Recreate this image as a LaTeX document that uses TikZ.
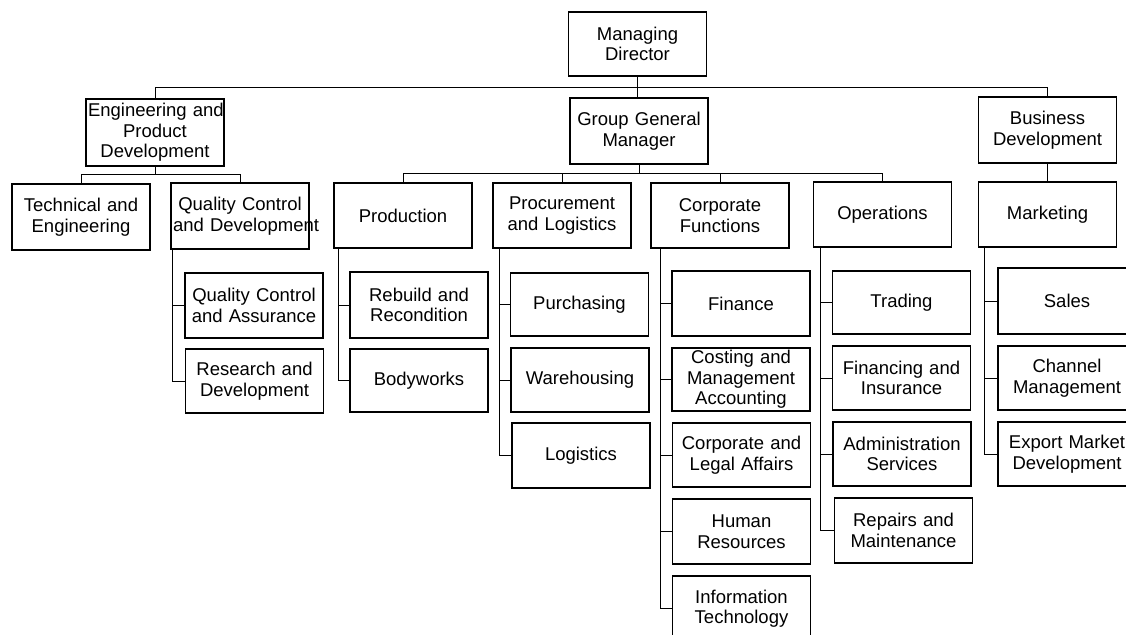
\documentclass[tikz,border=0pt]{standalone}
\usepackage{fontspec}
\setmainfont{Liberation Sans}
\begin{document}
\begin{tikzpicture}[x=1pt,y=-1pt,
  box/.style={draw, line width=1.1pt, rectangle, align=center, inner xsep=2pt, inner ysep=0pt,
    text width=134pt, minimum height=65pt, font=\fontsize{18.5}{20.5}\selectfont},
  link/.style={line width=1pt}]
\useasboundingbox (0,0) rectangle (1126,634);
\clip (0,0) rectangle (1126,634);

% level 0 and 1
\node[box] (md)  at (637.5,44)  [minimum height=64pt] {Managing\\Director};
\node[box] (epd) at (155,132.5) [minimum height=67pt] {\mbox{Engineering and}\\Product\\Development};
\node[box] (ggm) at (639,131)   [minimum height=66pt] {\mbox{Group General}\\Manager};
\node[box] (bd)  at (1047.5,130) [minimum height=66pt] {Business\\Development};

% level 2
\node[box] (te)   at (81,217)      [minimum height=66pt] {\mbox{Technical and}\\Engineering};
\node[box] (qcd)  at (240,216)     [minimum height=66pt] {\mbox{Quality Control}\\\mbox{and Development}};
\node[box] (prod) at (403,215.5)   {Production};
\node[box] (proc) at (562,215.5)   {Procurement\\\mbox{and Logistics}};
\node[box] (cf)   at (720,215.5)   {Corporate\\Functions};
\node[box] (ops)  at (882.5,214.5) {Operations};
\node[box] (mkt)  at (1047.5,214.5) {Marketing};

% level 3
\node[box] (qca)  at (254,305.5) {\mbox{Quality Control}\\\mbox{and Assurance}};
\node[box] (rd)   at (254.5,381) [minimum height=64pt] {\mbox{Research and}\\Development};
\node[box] (reb)  at (419,305)   [minimum height=66pt] {\mbox{Rebuild and}\\Recondition};
\node[box] (body) at (419,380.5) [minimum height=63pt] {Bodyworks};
\node[box] (pur)  at (579.5,304.5) [minimum height=63pt] {Purchasing};
\node[box] (ware) at (580,380)   [minimum height=64pt] {Warehousing};
\node[box] (logi) at (581,455.5) {Logistics};
\node[box] (fin)  at (741,303.5) {Finance};
\node[box] (cost) at (741,379.5) [minimum height=63pt] {\mbox{Costing and}\\Management\\Accounting};
\node[box] (cla)  at (741.5,455) [minimum height=64pt] {\mbox{Corporate and}\\\mbox{Legal Affairs}};
\node[box] (hr)   at (741.5,531.5) {Human\\Resources};
\node[box] (it)   at (741.5,608.5) {Information\\Technology};
\node[box] (trad) at (901.5,302.5) [minimum height=63pt] {Trading};
\node[box] (fini) at (901.5,378)  [minimum height=64pt] {\mbox{Financing and}\\Insurance};
\node[box] (adm)  at (902,454)    [minimum height=64pt] {Administration\\Services};
\node[box] (rep)  at (903.5,530.5) {\mbox{Repairs and}\\Maintenance};
\node[box] (sales) at (1067,301)  [minimum height=66pt] {Sales};
\node[box] (chan)  at (1067,378)  [minimum height=64pt] {Channel\\Management};
\node[box] (exp)   at (1067,454)  [minimum height=64pt] {\mbox{Export Market}\\Development};

% bars
\coordinate (bar0) at (0,87);
\coordinate (bar1) at (0,174);
\coordinate (bar2) at (0,173);

\draw[link] (md.south) -- (md.south |- ggm.north);
\draw[link] (epd.north) -- (epd.north |- bar0) -| (bd.north);
\draw[link] (epd.south) -- (epd.south |- bar1);
\draw[link] (te.north) -- (te.north |- bar1) -| (qcd.north);
\draw[link] (ggm.south) -- (ggm.south |- bar2);
\draw[link] (prod.north) -- (prod.north |- bar2) -| (ops.north);
\draw[link] (proc.north) -- (proc.north |- bar2);
\draw[link] (cf.north) -- (cf.north |- bar2);
\draw[link] (bd.south) -- (mkt.north);

% sub-branches
\coordinate (vq) at ([xshift=2pt]qcd.south west);
\draw[link] (vq) |- (rd.west);
\draw[link] (vq |- qca.west) -- (qca.west);

\coordinate (vp) at ([xshift=5pt]prod.south west);
\draw[link] (vp) |- (body.west);
\draw[link] (vp |- reb.west) -- (reb.west);

\coordinate (vl) at ([xshift=7pt]proc.south west);
\draw[link] (vl) |- (logi.west);
\draw[link] (vl |- pur.west) -- (pur.west);
\draw[link] (vl |- ware.west) -- (ware.west);

\coordinate (vc) at ([xshift=10pt]cf.south west);
\draw[link] (vc) |- (it.west);
\draw[link] (vc |- fin.west) -- (fin.west);
\draw[link] (vc |- cost.west) -- (cost.west);
\draw[link] (vc |- cla.west) -- (cla.west);
\draw[link] (vc |- hr.west) -- (hr.west);

\coordinate (vo) at ([xshift=8pt]ops.south west);
\draw[link] (vo) |- (rep.west);
\draw[link] (vo |- trad.west) -- (trad.west);
\draw[link] (vo |- fini.west) -- (fini.west);
\draw[link] (vo |- adm.west) -- (adm.west);

\coordinate (vm) at ([xshift=7pt]mkt.south west);
\draw[link] (vm) |- (exp.west);
\draw[link] (vm |- sales.west) -- (sales.west);
\draw[link] (vm |- chan.west) -- (chan.west);
\end{tikzpicture}
\end{document}
